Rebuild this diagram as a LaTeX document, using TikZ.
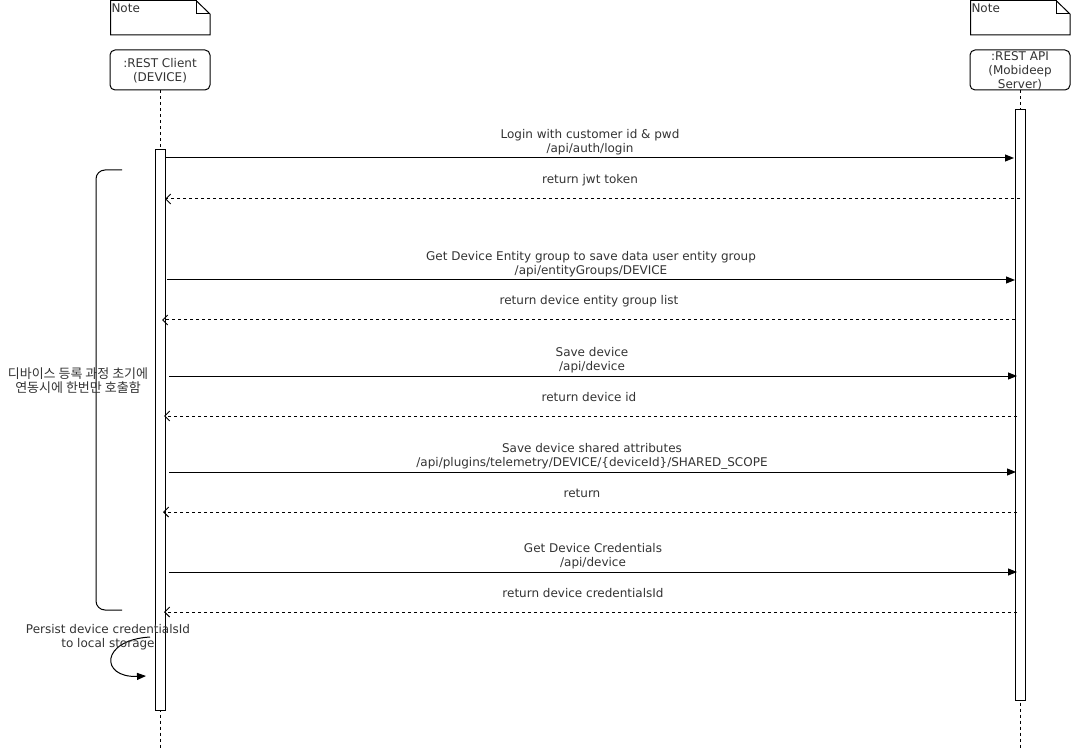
\documentclass[tikz,border=0pt]{standalone}
\usepackage{fontspec}
\setmainfont{DejaVu Sans}
\newfontfamily\krfont{Noto Sans CJK KR}
\usetikzlibrary{arrows.meta}
\definecolor{txt}{HTML}{333333}
\tikzset{
  lbl/.style={text=txt, font=\fontsize{12}{14}\selectfont, align=center, inner sep=0pt, anchor=center},
  hdr/.style={draw, rounded corners=5pt, minimum width=100pt, minimum height=40pt, inner sep=0pt, text=txt, font=\fontsize{12}{14}\selectfont, align=center},
  actbar/.style={draw, fill=white, minimum width=10pt, inner sep=0pt},
  lifeline/.style={dash pattern=on 3pt off 3pt},
  callarrow/.style={-{Triangle[length=9pt,width=7pt]}},
  retarrow/.style={dash pattern=on 3pt off 3pt, -{Straight Barb[length=5pt,width=10pt]}},
  every path/.style={line width=1pt}
}
\begin{document}
\begin{tikzpicture}[x=1pt,y=-1pt]
\useasboundingbox (0,0) rectangle (1071,751);
% notes
\draw (110.5,0.5) -- (196,0.5) -- (210,14) -- (210,35) -- (110.5,35) -- cycle;
\draw (196,0.5) -- (196,14) -- (210,14);
\node[lbl, anchor=west] (n1) at (111,8) {Note};
\draw (970.5,0.5) -- (1056,0.5) -- (1070,14) -- (1070,35) -- (970.5,35) -- cycle;
\draw (1056,0.5) -- (1056,14) -- (1070,14);
\node[lbl, anchor=west] (n2) at (971,8) {Note};
% headers
\node[hdr] (cl) at (160,70) {};
\node[lbl] (clt) at (160,71) {:REST Client\\(DEVICE)};
\node[hdr] (sv) at (1020,70) {};
\node[lbl] (svt) at (1020,71) {:REST API\\(Mobideep\\Server)};
% lifelines
\coordinate (clend) at (160,748);
\coordinate (svend) at (1020,748);
\draw[lifeline] (cl.south) -- (clend);
\draw[lifeline] (sv.south) -- (svend);
% activation bars
\node[actbar, minimum height=560pt] (ca) at (160,430) {};
\node[actbar, minimum height=590pt] (sa) at (1020,405) {};
% messages
\coordinate (a1s) at (165,158); \coordinate (a1e) at (1014,158);
\draw[callarrow] (a1s) -- (a1e);
\node[lbl] (l1) at (590,142.5) {Login with customer id \& pwd\\/api/auth/login};
\coordinate (r1s) at (1020,199); \coordinate (r1e) at (165,199);
\draw[retarrow] (r1s) -- (r1e);
\node[lbl] (l2) at (590,180.5) {return jwt token};

\coordinate (a2s) at (167,280); \coordinate (a2e) at (1015,280);
\draw[callarrow] (a2s) -- (a2e);
\node[lbl] (l3) at (591,264.5) {Get Device Entity group to save data user entity group\\/api/entityGroups/DEVICE};
\coordinate (r2s) at (1015,320); \coordinate (r2e) at (162,320);
\draw[retarrow] (r2s) -- (r2e);
\node[lbl] (l4) at (589,301.5) {return device entity group list};

\coordinate (a3s) at (169,376); \coordinate (a3e) at (1017,376);
\draw[callarrow] (a3s) -- (a3e);
\node[lbl] (l5) at (592,360.5) {Save device\\/api/device};
\coordinate (r3s) at (1017,416); \coordinate (r3e) at (164,416);
\draw[retarrow] (r3s) -- (r3e);
\node[lbl] (l6) at (589,397.5) {return device id};

\coordinate (a4s) at (169,472); \coordinate (a4e) at (1016,472);
\draw[callarrow] (a4s) -- (a4e);
\node[lbl] (l7) at (592,456.5) {Save device shared attributes\\/api/plugins/telemetry/DEVICE/\{deviceId\}/SHARED\_SCOPE};
\coordinate (r4s) at (1017,512); \coordinate (r4e) at (163,512);
\draw[retarrow] (r4s) -- (r4e);
\node[lbl] (l8) at (582,493.5) {return};

\coordinate (a5s) at (169,572); \coordinate (a5e) at (1017,572);
\draw[callarrow] (a5s) -- (a5e);
\node[lbl] (l9) at (593,556.5) {Get Device Credentials\\/api/device};
\coordinate (r5s) at (1017,612); \coordinate (r5e) at (164,612);
\draw[retarrow] (r5s) -- (r5e);
\node[lbl] (l10) at (583,593.5) {return device credentialsId};

% bracket
\coordinate (bt) at (122,170); \coordinate (bb) at (122,610);
\draw[rounded corners=9pt] (bt) -- (96,170) -- (96,610) -- (bb);
\node[lbl, font=\krfont\fontsize{13}{14}\selectfont] (kr) at (78,381) {디바이스 등록 과정 초기에\\연동시에 한번만 호출함};

% self loop
\coordinate (ss) at (150,637); \coordinate (se) at (146,676);
\draw[callarrow] (ss) .. controls (100,640) and (100,678) .. (se);
\node[lbl] (pl) at (108,637) {Persist device credentialsId\\to local storage};
\end{tikzpicture}
\end{document}
